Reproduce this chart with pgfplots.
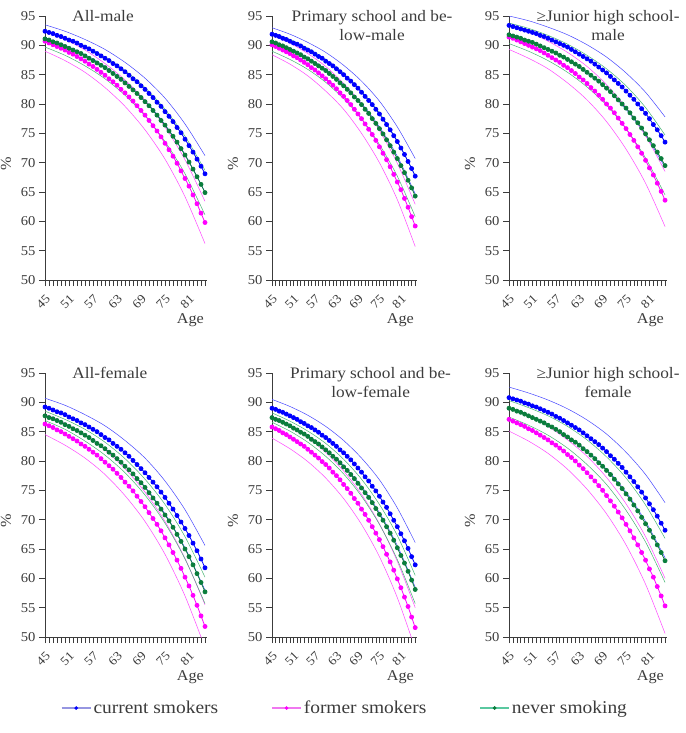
\documentclass[border=0pt]{standalone}
\usepackage{fontspec}
\setmainfont{Liberation Serif}[FakeStretch=1.08]
\usepackage{pgfplots}
\usepackage{pgfplotstable}
\pgfplotsset{compat=1.18}

\definecolor{cblue}{RGB}{0,0,255}
\definecolor{cmag}{RGB}{255,0,255}
\definecolor{cgreen}{RGB}{10,125,60}
\definecolor{lblue}{RGB}{70,70,255}
\definecolor{lmag}{RGB}{255,70,255}
\definecolor{lgreen}{RGB}{70,180,115}
\definecolor{legblue}{RGB}{150,150,225}
\definecolor{legmag}{RGB}{240,120,240}
\definecolor{leggreen}{RGB}{90,200,160}
\definecolor{axgray}{RGB}{60,60,60}

% age, current (c), former (f), never (n)
\pgfplotstableread{
a c f n
45 92.4 90.7 91.1
46 92.2 90.4 90.9
47 92.0 90.1 90.6
48 91.7 89.8 90.4
49 91.5 89.5 90.1
50 91.2 89.2 89.8
51 90.9 88.8 89.5
52 90.7 88.5 89.2
53 90.4 88.1 88.9
54 90.0 87.7 88.6
55 89.7 87.3 88.2
56 89.4 86.8 87.8
57 89.0 86.4 87.4
58 88.6 85.9 87.0
59 88.2 85.4 86.6
60 87.8 84.9 86.2
61 87.4 84.3 85.7
62 86.9 83.8 85.2
63 86.5 83.2 84.7
64 86.0 82.5 84.2
65 85.5 81.9 83.6
66 84.9 81.2 83.0
67 84.3 80.5 82.4
68 83.8 79.7 81.8
69 83.1 78.9 81.1
70 82.5 78.1 80.4
71 81.8 77.2 79.7
72 81.1 76.3 78.9
73 80.3 75.4 78.1
74 79.6 74.4 77.2
75 78.7 73.3 76.4
76 77.9 72.2 75.4
77 77.0 71.1 74.5
78 76.0 69.9 73.5
79 75.1 68.6 72.4
80 74.0 67.3 71.3
81 72.9 66.0 70.1
82 71.8 64.5 68.9
83 70.6 63.0 67.6
84 69.4 61.4 66.3
85 68.1 59.8 64.9
}\tA
\pgfplotstableread{
a c f n
45 91.9 90.1 90.6
46 91.7 89.8 90.4
47 91.5 89.5 90.1
48 91.2 89.2 89.9
49 91.0 88.9 89.6
50 90.7 88.6 89.3
51 90.4 88.2 89.0
52 90.2 87.9 88.7
53 89.9 87.5 88.4
54 89.5 87.1 88.0
55 89.2 86.7 87.7
56 88.9 86.2 87.3
57 88.5 85.8 86.9
58 88.1 85.3 86.5
59 87.8 84.8 86.1
60 87.3 84.3 85.7
61 86.9 83.7 85.2
62 86.5 83.2 84.7
63 86.0 82.6 84.2
64 85.5 81.9 83.6
65 85.0 81.3 83.1
66 84.4 80.6 82.5
67 83.9 79.9 81.9
68 83.3 79.1 81.2
69 82.7 78.3 80.6
70 82.0 77.5 79.9
71 81.3 76.6 79.1
72 80.6 75.7 78.4
73 79.9 74.8 77.5
74 79.1 73.8 76.7
75 78.3 72.7 75.8
76 77.4 71.6 74.9
77 76.5 70.5 73.9
78 75.6 69.3 72.9
79 74.6 68.0 71.8
80 73.6 66.7 70.7
81 72.5 65.4 69.5
82 71.4 63.9 68.3
83 70.2 62.4 67.0
84 69.0 60.8 65.7
85 67.7 59.2 64.3
}\tB
\pgfplotstableread{
a c f n
45 93.4 91.4 91.8
46 93.2 91.2 91.6
47 93.0 90.9 91.4
48 92.8 90.6 91.2
49 92.6 90.3 90.9
50 92.4 90.0 90.7
51 92.2 89.7 90.5
52 92.0 89.4 90.2
53 91.7 89.1 89.9
54 91.5 88.7 89.6
55 91.2 88.3 89.3
56 90.9 87.9 89.0
57 90.6 87.5 88.7
58 90.3 87.1 88.3
59 90.0 86.6 88.0
60 89.7 86.2 87.6
61 89.3 85.7 87.2
62 88.9 85.2 86.8
63 88.5 84.6 86.4
64 88.1 84.1 85.9
65 87.7 83.5 85.4
66 87.3 82.8 84.9
67 86.8 82.2 84.4
68 86.3 81.5 83.9
69 85.8 80.8 83.3
70 85.3 80.0 82.7
71 84.7 79.3 82.1
72 84.1 78.5 81.4
73 83.5 77.6 80.7
74 82.9 76.7 80.0
75 82.2 75.8 79.3
76 81.5 74.8 78.5
77 80.8 73.8 77.6
78 80.0 72.7 76.8
79 79.2 71.6 75.9
80 78.4 70.4 74.9
81 77.5 69.1 73.9
82 76.5 67.9 72.9
83 75.6 66.5 71.8
84 74.6 65.1 70.7
85 73.5 63.6 69.5
}\tC
\pgfplotstableread{
a c f n
45 89.2 86.3 87.7
46 89.0 86.0 87.4
47 88.7 85.7 87.2
48 88.4 85.3 86.9
49 88.2 85.0 86.6
50 87.9 84.6 86.2
51 87.5 84.2 85.9
52 87.2 83.8 85.5
53 86.9 83.4 85.2
54 86.5 82.9 84.8
55 86.2 82.5 84.4
56 85.8 82.0 84.0
57 85.4 81.5 83.5
58 85.0 81.0 83.0
59 84.5 80.4 82.6
60 84.0 79.8 82.1
61 83.6 79.2 81.5
62 83.0 78.6 81.0
63 82.5 77.9 80.4
64 82.0 77.2 79.8
65 81.4 76.4 79.1
66 80.8 75.7 78.5
67 80.1 74.9 77.8
68 79.4 74.0 77.0
69 78.7 73.1 76.3
70 78.0 72.2 75.5
71 77.2 71.2 74.6
72 76.4 70.2 73.7
73 75.6 69.2 72.8
74 74.7 68.1 71.8
75 73.8 66.9 70.8
76 72.8 65.7 69.8
77 71.8 64.4 68.7
78 70.7 63.1 67.5
79 69.6 61.7 66.3
80 68.5 60.2 65.0
81 67.3 58.7 63.7
82 66.0 57.1 62.3
83 64.7 55.4 60.8
84 63.3 53.6 59.3
85 61.8 51.8 57.7
}\tD
\pgfplotstableread{
a c f n
45 89.0 85.8 87.4
46 88.8 85.5 87.1
47 88.5 85.2 86.9
48 88.3 84.8 86.6
49 88.0 84.5 86.3
50 87.7 84.1 86.0
51 87.4 83.7 85.6
52 87.1 83.3 85.3
53 86.7 82.9 84.9
54 86.4 82.5 84.6
55 86.0 82.0 84.2
56 85.7 81.5 83.7
57 85.3 81.0 83.3
58 84.9 80.5 82.9
59 84.4 79.9 82.4
60 84.0 79.4 81.9
61 83.5 78.8 81.4
62 83.0 78.1 80.8
63 82.5 77.5 80.3
64 81.9 76.8 79.7
65 81.4 76.0 79.0
66 80.8 75.3 78.4
67 80.2 74.5 77.7
68 79.5 73.6 77.0
69 78.8 72.8 76.2
70 78.1 71.8 75.4
71 77.3 70.9 74.6
72 76.6 69.9 73.8
73 75.7 68.8 72.9
74 74.9 67.7 71.9
75 74.0 66.6 70.9
76 73.0 65.4 69.9
77 72.1 64.1 68.8
78 71.0 62.8 67.7
79 69.9 61.4 66.5
80 68.8 59.9 65.2
81 67.6 58.4 63.9
82 66.4 56.8 62.6
83 65.1 55.2 61.2
84 63.7 53.4 59.7
85 62.3 51.6 58.1
}\tE
\pgfplotstableread{
a c f n
45 90.8 87.1 89.0
46 90.6 86.8 88.8
47 90.4 86.5 88.5
48 90.2 86.2 88.3
49 89.9 85.9 88.0
50 89.7 85.5 87.7
51 89.4 85.2 87.4
52 89.2 84.8 87.1
53 88.9 84.4 86.8
54 88.6 84.0 86.5
55 88.3 83.6 86.1
56 88.0 83.1 85.8
57 87.6 82.7 85.4
58 87.3 82.2 85.0
59 86.9 81.7 84.5
60 86.5 81.1 84.1
61 86.1 80.6 83.6
62 85.7 80.0 83.2
63 85.3 79.3 82.7
64 84.8 78.7 82.1
65 84.3 78.0 81.6
66 83.8 77.3 81.0
67 83.3 76.6 80.4
68 82.8 75.8 79.7
69 82.2 75.0 79.1
70 81.6 74.1 78.4
71 80.9 73.2 77.7
72 80.3 72.3 76.9
73 79.6 71.3 76.1
74 78.9 70.3 75.3
75 78.1 69.2 74.4
76 77.3 68.1 73.5
77 76.5 66.9 72.5
78 75.6 65.7 71.5
79 74.7 64.4 70.4
80 73.7 63.1 69.3
81 72.7 61.6 68.2
82 71.7 60.2 67.0
83 70.6 58.6 65.7
84 69.4 57.0 64.4
85 68.2 55.3 63.0
}\tF

% confidence limits: upper/lower for current, former, never
\pgfplotstableread{
a cu cl fu fl nu nl
45 93.5 91.3 92.4 89.0 92.5 89.7
50 92.4 90.0 91.0 87.4 91.3 88.3
55 91.0 88.4 89.2 85.4 89.9 86.5
60 89.3 86.4 86.9 82.8 88.0 84.3
65 87.1 83.8 84.1 79.6 85.7 81.5
70 84.4 80.6 80.6 75.6 82.8 78.0
75 81.0 76.5 76.1 70.6 79.1 73.6
80 76.6 71.4 70.5 64.2 74.5 68.1
85 71.2 65.0 63.4 56.2 68.7 61.1
}\ciA
\pgfplotstableread{
a cu cl fu fl nu nl
45 93.0 90.8 91.8 88.4 92.2 89.0
50 91.9 89.5 90.4 86.8 91.0 87.6
55 90.5 87.9 88.6 84.8 89.5 85.9
60 88.8 85.9 86.4 82.2 87.6 83.7
65 86.6 83.3 83.5 79.1 85.2 80.9
70 83.9 80.1 80.0 75.0 82.2 77.5
75 80.5 76.1 75.5 70.0 78.5 73.1
80 76.1 71.1 69.9 63.7 73.7 67.7
85 70.7 64.7 62.9 55.7 67.8 60.8
}\ciB
\pgfplotstableread{
a cu cl fu fl nu nl
45 95.0 91.8 93.5 89.3 93.8 90.3
50 94.2 90.7 92.3 87.8 92.9 89.0
55 93.1 89.3 90.7 86.0 91.7 87.4
60 91.8 87.5 88.8 83.6 90.2 85.4
65 90.1 85.3 86.4 80.7 88.3 82.9
70 88.0 82.6 83.3 77.0 86.0 79.8
75 85.3 79.1 79.4 72.3 83.1 75.8
80 82.0 74.7 74.6 66.5 79.4 70.8
85 77.8 69.2 68.5 59.1 74.7 64.5
}\ciC
\pgfplotstableread{
a cu cl fu fl nu nl
45 90.7 87.7 88.0 84.5 88.5 86.9
50 89.5 86.2 86.4 82.7 87.1 85.4
55 87.9 84.4 84.4 80.5 85.4 83.4
60 86.0 82.1 81.9 77.7 83.2 81.0
65 83.5 79.2 78.7 74.1 80.4 78.0
70 80.5 75.6 74.7 69.7 76.9 74.2
75 76.6 71.0 69.7 64.1 72.6 69.4
80 71.7 65.2 63.4 57.0 67.1 63.3
85 65.6 58.0 55.5 48.2 60.2 55.7
}\ciD
\pgfplotstableread{
a cu cl fu fl nu nl
45 90.5 87.5 87.6 83.9 88.2 86.6
50 89.3 86.1 86.0 82.1 86.8 85.1
55 87.8 84.3 84.0 79.9 85.1 83.2
60 85.9 82.0 81.5 77.1 83.0 80.8
65 83.5 79.2 78.3 73.6 80.3 77.8
70 80.5 75.7 74.3 69.2 76.9 74.0
75 76.8 71.2 69.3 63.7 72.6 69.2
80 72.0 65.6 62.9 56.7 67.3 63.2
85 66.1 58.5 55.0 48.0 60.5 55.7
}\ciE
\pgfplotstableread{
a cu cl fu fl nu nl
45 92.6 89.0 89.1 85.1 90.3 87.5
50 91.6 87.8 87.7 83.4 89.1 86.1
55 90.4 86.2 85.9 81.3 87.7 84.4
60 88.9 84.2 83.6 78.6 85.9 82.2
65 87.0 81.7 80.8 75.2 83.6 79.4
70 84.6 78.6 77.2 71.0 80.7 76.0
75 81.5 74.7 72.7 65.7 77.1 71.6
80 77.7 69.7 67.1 59.0 72.5 66.2
85 72.9 63.5 60.0 50.6 66.8 59.3
}\ciF

\pgfplotsset{
  /pgf/number format/assume math mode=true,
  panel/.style 2 args={
    scale only axis, width=#1, height=264pt,
    xmin=45, xmax=85.5, ymin=50, ymax=95,
    enlargelimits=false,
    axis lines=left, axis line style={-, axgray, line width=0.7pt},
    xtick={45,51,...,81}, minor xtick={45,46,...,85},
    ytick={50,55,...,95},
    tick align=outside, major tick length=6pt, minor tick length=6pt,
    tick style={axgray, line width=0.6pt},
    xticklabel shift=3pt,
    xticklabel style={rotate=45, anchor=north east, text=axgray,
      font=\fontsize{12.5}{14}\selectfont},
    yticklabel style={text=axgray, font=\fontsize{13.5}{15}\selectfont},
    xlabel={Age}, ylabel={\%},
    x label style={at={(rel axis cs:1,0)}, anchor=north east,
      yshift=-33pt, xshift=-3pt, inner sep=0pt, text=axgray,
      font=\fontsize{15}{17}\selectfont},
    y label style={at={(rel axis cs:0,0.44)}, anchor=center,
      yshift=39pt, text=axgray, font=\fontsize{15}{17}\selectfont},
    title style={at={(rel axis cs:#2,1)}, anchor=north, yshift=0pt,
      align=center, inner sep=0pt, text=axgray,
      font=\fontsize{16}{19.5}\selectfont},
  },
  main/.style={color=#1, line width=0.8pt, mark=*, mark size=2pt,
    mark options={solid, fill=#1, draw=#1}},
  ci/.style={color=#1, line width=0.5pt, smooth, no marks, forget plot},
}

\newcommand{\panelplots}[2]{%
  \addplot[ci=lblue]  table[x=a, y=cu] {#2};
  \addplot[ci=lblue]  table[x=a, y=cl] {#2};
  \addplot[ci=lmag]   table[x=a, y=fu] {#2};
  \addplot[ci=lmag]   table[x=a, y=fl] {#2};
  \addplot[ci=lgreen] table[x=a, y=nu] {#2};
  \addplot[ci=lgreen] table[x=a, y=nl] {#2};
  \addplot[main=cblue, legend image code/.code={
      \draw[legblue, line width=1.6pt] (0pt,0pt) -- (29pt,0pt);
      \fill[cblue] (14.5pt,0pt) circle (1.4pt);}]
    table[x=a, y=c] {#1};
  \addplot[main=cmag, legend image code/.code={
      \draw[legmag, line width=1.6pt] (0pt,0pt) -- (29pt,0pt);
      \fill[cmag] (14.5pt,0pt) circle (1.4pt);}]
    table[x=a, y=f] {#1};
  \addplot[main=cgreen, legend image code/.code={
      \draw[leggreen, line width=1.6pt] (0pt,0pt) -- (29pt,0pt);
      \fill[cgreen] (14.5pt,0pt) circle (1.4pt);}]
    table[x=a, y=n] {#1};
}

\begin{document}
\begin{tikzpicture}
\path[use as bounding box] (0pt,0pt) rectangle (685pt,-733pt);

\begin{axis}[panel={162pt}{0.358}, at={(45pt,-280pt)}, anchor=south west,
  title={All-male}]
  \panelplots{\tA}{\ciA}
\end{axis}

\begin{axis}[panel={145pt}{0.69}, at={(272pt,-280pt)}, anchor=south west,
  title={Primary school and be-\\low-male}]
  \panelplots{\tB}{\ciB}
\end{axis}

\begin{axis}[panel={158pt}{0.627}, at={(509pt,-280pt)}, anchor=south west,
  title={≥Junior high school-\\male}]
  \panelplots{\tC}{\ciC}
\end{axis}

\begin{axis}[panel={162pt}{0.40}, at={(45pt,-637pt)}, anchor=south west,
  title={All-female}]
  \panelplots{\tD}{\ciD}
\end{axis}

\begin{axis}[panel={145pt}{0.68}, at={(272pt,-637pt)}, anchor=south west,
  title={Primary school and be-\\low-female},
  legend style={at={(rel axis cs:0.503,-0.269)}, anchor=center,
    draw=none, fill=none, legend columns=3, text=axgray,
    font=\fontsize{18}{20}\selectfont, nodes={inner xsep=2pt},
    /tikz/every even column/.append style={column sep=51pt}},
  legend cell align=left]
  \panelplots{\tE}{\ciE}
  \legend{current smokers, former smokers, never smoking}
\end{axis}

\begin{axis}[panel={158pt}{0.627}, at={(509pt,-637pt)}, anchor=south west,
  title={≥Junior high school-\\female}]
  \panelplots{\tF}{\ciF}
\end{axis}
\end{tikzpicture}
\end{document}
